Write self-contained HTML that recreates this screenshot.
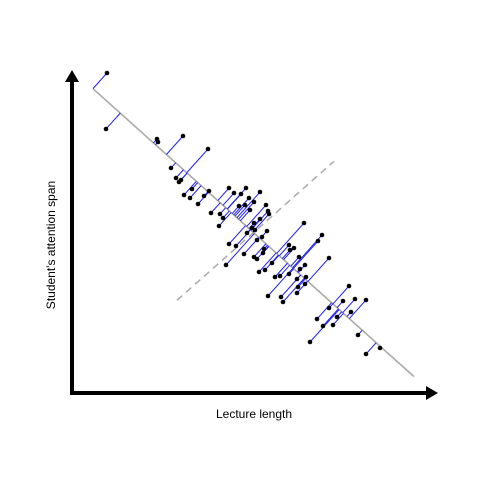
<!DOCTYPE html>
<html><head><meta charset="utf-8"><style>
html,body{margin:0;padding:0;background:#fff;}
svg{display:block;font-family:"Liberation Sans",sans-serif;}
</style></head><body>
<svg id="chart" width="480" height="480" viewBox="0 0 480 480">
<rect width="480" height="480" fill="#fff"/>
<g id="marks"></g>
<g>
<line x1="72" y1="393" x2="430" y2="393" stroke="#000" stroke-width="4"/>
<polygon points="438,393 426,386 426,400" fill="#000"/>
<line x1="72" y1="395" x2="72" y2="78" stroke="#000" stroke-width="4"/>
<polygon points="72,70 65,82 79,82" fill="#000"/>
<text x="254" y="418" font-size="12" text-anchor="middle">Lecture length</text>
<text x="0" y="0" font-size="12" text-anchor="middle" transform="translate(55,245) rotate(-90)">Student's attention span</text>
</g>
</svg>
<script>
const xs=[35,34,85,86,111,136,99,104,107,109,112,118,120,126,132,137,157,174,188,162,169,177,182,139,148,151,147,167,173,178,194,196,197,188,182,180,175,183,195,190,185,232,157,164,172,154,192,191,182,185,250,246,217,222,218,227,257,200,233,228,193,187,217,208,203,225,234,226,233,225,277,196,209,211,283,294,271,257,279,245,265,251,261,286,238,308,294];
const ys=[320,264,254,251,257,244,225,215,211,213,198,195,204,189,197,202,205,205,201,200,199,195,191,180,179,175,167,187,188,183,188,182,179,174,170,165,160,163,162,156,153,170,149,147,139,128,144,140,136,134,158,152,148,145,143,136,135,130,128,124,123,121,119,117,116,114,116,106,109,100,107,97,96,91,94,93,92,85,81,74,76,67,68,58,51,45,39];
const NS='http://www.w3.org/2000/svg';
const sx=v=>72+v, sy=v=>393-v;
const g=document.getElementById('marks');
function mk(t,a){const e=document.createElementNS(NS,t);for(const k in a)e.setAttribute(k,a[k]);g.appendChild(e);return e;}
const n=xs.length;
let mx=0,my=0;for(let i=0;i<n;i++){mx+=sx(xs[i]);my+=sy(ys[i]);}mx/=n;my/=n;
let cxx=0,cyy=0,cxy=0;
for(let i=0;i<n;i++){const dx=sx(xs[i])-mx,dy=sy(ys[i])-my;cxx+=dx*dx;cyy+=dy*dy;cxy+=dx*dy;}
const slope=0.5*(cxy/cxx+Math.sign(cxy)*Math.sqrt(cyy/cxx));
const nrm=Math.hypot(1,slope);
const ux=1/nrm,uy=slope/nrm;
const proj=[];
let xmin=1e9,xmax=-1e9;
for(let i=0;i<n;i++){const px=sx(xs[i]),py=sy(ys[i]);proj.push((px-mx)*ux+(py-my)*uy);xmin=Math.min(xmin,px);xmax=Math.max(xmax,px);}
const x1=xmin-13,x2=xmax+34;
const pc=mk('line',{x1:x1,y1:my+slope*(x1-mx),x2:x2,y2:my+slope*(x2-mx),stroke:'#aaa','stroke-width':1.6});


const pc2=mk('line',{x1:mx-85,y1:my+60,x2:mx+72,y2:my-79,stroke:'#aaa','stroke-width':1.5,'stroke-dasharray':'7,5'});


for(let i=0;i<n;i++){
 const px=sx(xs[i]),py=sy(ys[i]);
 const l=mk('line',{x1:px,y1:py,x2:mx+ux*proj[i],y2:my+uy*proj[i],stroke:'#2222ee','stroke-width':1});
 
 
}
for(let i=0;i<n;i++){
 const c=mk('circle',{cx:sx(xs[i]),cy:sy(ys[i]),r:2.3,fill:'#000'});
 
 
}
</script>
</body></html>
